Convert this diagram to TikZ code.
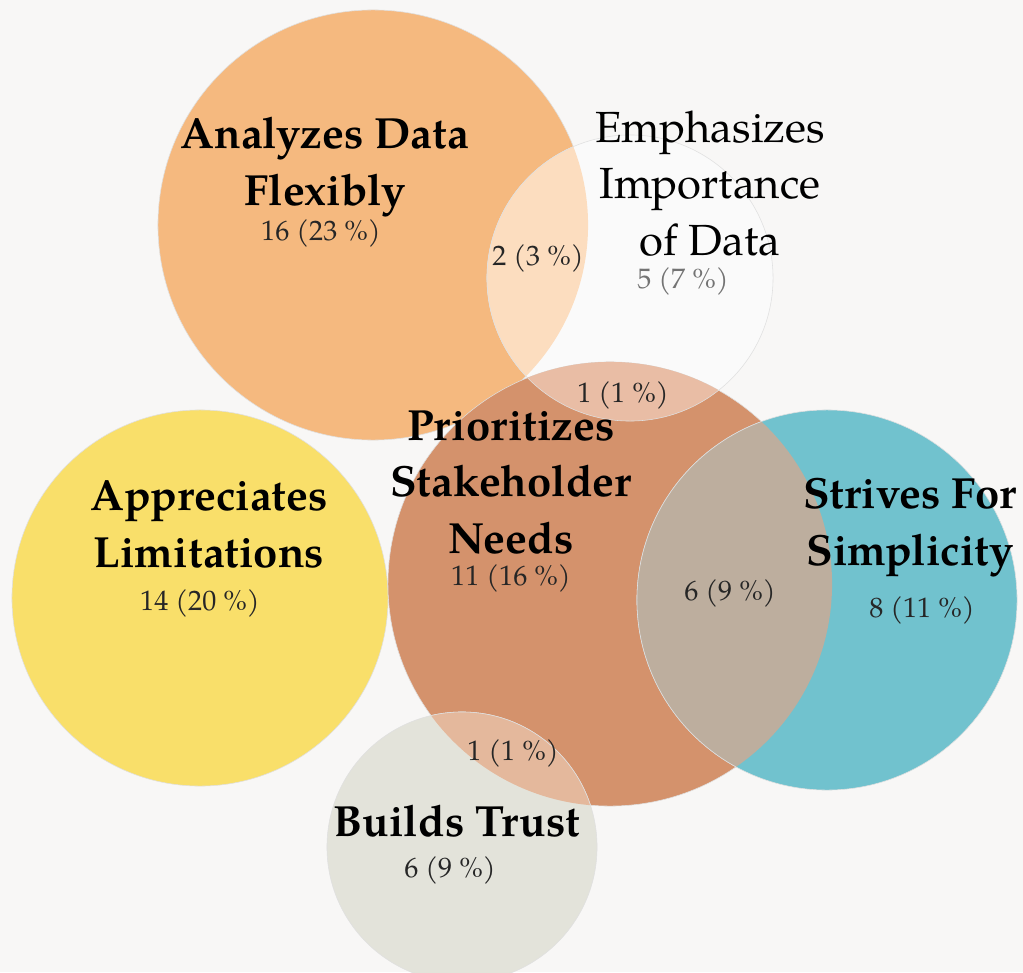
\documentclass[tikz,border=0pt]{standalone}
\usepackage{fontspec}
\setmainfont{TeX Gyre Pagella}
\definecolor{bgc}{HTML}{F8F7F6}
\definecolor{anac}{HTML}{F5B97F}
\definecolor{empc}{HTML}{FAFAFA}
\definecolor{aec}{HTML}{FCDDBF}
\definecolor{proc}{HTML}{D4926C}
\definecolor{pec}{HTML}{E9BDA5}
\definecolor{strc}{HTML}{71C2CE}
\definecolor{psc}{HTML}{BDAE9E}
\definecolor{appc}{HTML}{F9DF6A}
\definecolor{bldc}{HTML}{E3E3DA}
\definecolor{pbc}{HTML}{E4B89C}
\tikzset{
  disc/.style={draw=black!12, line width=0.4pt},
  title/.style={font=\fontsize{31}{40}\selectfont\bfseries, align=center, anchor=base},
  count/.style={font=\fontsize{20}{22}\selectfont, text=black!85, anchor=base},
}

\begin{document}
\begin{tikzpicture}[x=0.025cm,y=-0.025cm]
\useasboundingbox (0,0) rectangle (1023,972);
\fill[bgc] (0,0) rectangle (1023,972);

% circle centres
\coordinate (cAna) at (373,225);
\coordinate (cEmp) at (630,278);
\coordinate (cPri) at (610,584);
\coordinate (cStr) at (827,600);
\coordinate (cApp) at (200,598);
\coordinate (cBld) at (462,847);

\fill[anac, disc] (cAna) circle [radius=5.375cm];
\fill[empc, disc] (cEmp) circle [radius=3.575cm];
\begin{scope}
\clip (cAna) circle [radius=5.375cm];
\fill[aec, disc] (cEmp) circle [radius=3.575cm];
\end{scope}
\fill[appc, disc] (cApp) circle [radius=4.7cm];
\fill[proc, disc] (cPri) circle [radius=5.55cm];
\begin{scope}
\clip (cPri) circle [radius=5.55cm];
\fill[pec, disc] (cEmp) circle [radius=3.575cm];
\end{scope}
\fill[strc, disc] (cStr) circle [radius=4.75cm];
\begin{scope}
\clip (cPri) circle [radius=5.55cm];
\fill[psc, disc] (cStr) circle [radius=4.75cm];
\end{scope}
\fill[bldc, disc] (cBld) circle [radius=3.375cm];
\begin{scope}
\clip (cPri) circle [radius=5.55cm];
\fill[pbc, disc] (cBld) circle [radius=3.375cm];
\end{scope}

% labels (base = last line)
\node[title] (tAna) at (325,205) {Analyzes Data\\Flexibly};
\node[count] (nAna) at (321,240) {16 (23~\%)};
\node[title, font=\fontsize{31}{40}\selectfont] (tEmp) at (710,255) {Emphasizes\\Importance\\of Data};
\node[count, text=black!55] (nEmp) at (683,288) {5 (7~\%)};
\node[count] (nAE) at (538,265) {2 (3~\%)};
\node[count] (nPE) at (623,402) {1 (1~\%)};
\node[title] (tPri) at (511,553) {Prioritizes\\Stakeholder\\Needs};
\node[count] (nPri) at (511,585) {11 (16~\%)};
\node[title] (tApp) at (209,567) {Appreciates\\Limitations};
\node[count] (nApp) at (200,610) {14 (20~\%)};
\node[title] (tStr) at (910,565) {Strives For\\Simplicity};
\node[count] (nStr) at (922,617) {8 (11~\%)};
\node[count] (nPS) at (730,600) {6 (9~\%)};
\node[count] (nPB) at (513,760) {1 (1~\%)};
\node[title] (tBld) at (457,836) {Builds Trust};
\node[count] (nBld) at (450,877) {6 (9~\%)};
\end{tikzpicture}
\end{document}
